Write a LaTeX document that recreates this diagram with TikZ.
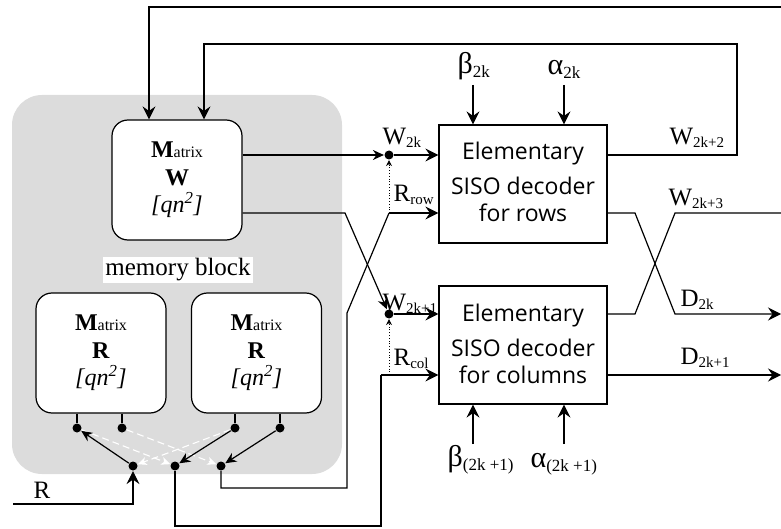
\documentclass[tikz,border=0pt]{standalone}
\usepackage{fontspec}
\setmainfont{Liberation Serif}
\newfontfamily\decfont{Open Sans}
\usetikzlibrary{arrows.meta}
\definecolor{memgray}{RGB}{220,220,220}
\newcommand\lsub[1]{\raisebox{-3pt}{\fontsize{15}{15}\selectfont #1}}
\newcommand\gsub[1]{\raisebox{-4pt}{\fontsize{17}{17}\selectfont #1}}
\begin{document}
\begin{tikzpicture}[x=1pt,y=-1pt, line width=1.2pt,
  big/.style={-{Stealth[length=13pt,width=13pt,inset=4.5pt]}},
  mid/.style={-{Stealth[length=11pt,width=10pt,inset=3.5pt]}},
  mbox/.style={draw, fill=white, rounded corners=16pt, minimum width=130pt, minimum height=120pt, align=center, font=\fontsize{24}{27.5}\selectfont, inner sep=0pt},
  dec/.style={draw, minimum width=168pt, minimum height=118pt, inner sep=0pt},
  dectext/.style={font=\decfont\fontsize{23}{23}\selectfont, anchor=base, inner sep=0pt},
  lab/.style={font=\fontsize{25}{25}\selectfont, anchor=base west, inner sep=0pt},
  glab/.style={font=\fontsize{30}{30}\selectfont, anchor=base west, inner sep=0pt},
  dot/.style={circle, fill=black, inner sep=0pt, minimum size=9pt},
  wdash/.style={white, line width=1.1pt, dash pattern=on 7pt off 4pt, -{Stealth[length=9pt,width=8pt,inset=2.5pt]}},
  dotl/.style={line width=0.8pt, dotted, -{Stealth[length=6pt,width=6pt,inset=2pt]}}
]
\useasboundingbox (0,0) rectangle (781,529);
\fill[memgray, rounded corners=30pt] (12,95) rectangle (342,474);

% memory boxes
\node[mbox] (W) at (177,180) {\textbf{M}{\fontsize{16}{16}\selectfont atrix}\\ \textbf{W}\\ \textit{[qn\textsuperscript{2}]}};
\node[mbox] (RL) at (101,353) {\textbf{M}{\fontsize{16}{16}\selectfont atrix}\\ \textbf{R}\\ \textit{[qn\textsuperscript{2}]}};
\node[mbox] (RR) at (256.5,353) {\textbf{M}{\fontsize{16}{16}\selectfont atrix}\\ \textbf{R}\\ \textit{[qn\textsuperscript{2}]}};
\node[fill=white, inner sep=2pt, font=\fontsize{25}{25}\selectfont] (memlab) at (178,270) {memory block};

% decoders
\node[dec] (rows) at (523,184) {};
\node[dectext] (rows1) at (523,160) {Elementary};
\node[dectext] (rows2) at (523,195) {SISO decoder};
\node[dectext] (rows3) at (523,222) {for rows};
\node[dec] (cols) at (523,345) {};
\node[dectext] (cols1) at (523,321) {Elementary};
\node[dectext] (cols2) at (523,356) {SISO decoder};
\node[dectext] (cols3) at (523,383) {for columns};

% junction dots
\node[dot] (wd1) at (389,155) {};
\node[dot] (wd2) at (389,314) {};
\node[dot] (m1) at (77,428) {};
\node[dot] (m2) at (122,428) {};
\node[dot] (m3) at (235,428) {};
\node[dot] (m4) at (280,428) {};
\node[dot] (n1) at (133,466) {};
\node[dot] (n2) at (175,466) {};
\node[dot] (n3) at (221,466) {};

% coordinates
\coordinate (t1) at (781,7);
\coordinate (t1b) at (149,7);
\coordinate (t2) at (737,44);
\coordinate (t2b) at (204,44);
\coordinate (c1) at (345,213);
\coordinate (c2) at (347,313);
\coordinate (c3) at (347,488);
\coordinate (rr) at (389,213);
\coordinate (c5) at (381,526);
\coordinate (rc) at (381,375);
\coordinate (rcd) at (389,375);
\coordinate (x1) at (635,213);
\coordinate (x2) at (675,314);
\coordinate (x3) at (635,314);
\coordinate (x4) at (675,213);
\coordinate (e1) at (781,213);
\coordinate (e2) at (781,314);
\coordinate (e3) at (781,375);
\coordinate (rin) at (13,504);
\coordinate (b1) at (473,85);
\coordinate (a1) at (564,85);
\coordinate (b2) at (473,444);
\coordinate (a2) at (564,444);

% feedback loops
\draw[big] (t1) -| (W.north -| t1b);
\draw[big] (rows.east |- wd1) -| (t2) -| (W.north -| t2b);

% W matrix outputs
\draw[mid] (W.east |- wd1) -- (wd1);
\draw[big] (wd1) -- (rows.west |- wd1);
\draw[mid] (W.east |- c1) -- (c1) -- (wd2);
\draw[big] (wd2) -- (cols.west |- wd2);

% R matrix routing
\draw (n3) |- (c3) -- (c2) -- (rr);
\draw[big] (rr) -- (rows.west |- rr);
\draw[dotl] (rr) -- (wd1);
\draw (n2) |- (c5) -- (rc);
\draw[big] (rc) -- (cols.west |- rc);
\draw[dotl] (rcd) -- (wd2);

% decoder outputs
\draw (cols.east |- wd2) -- (x3) -- (x4) -- (e1);
\draw[big] (rows.east |- rr) -- (x1) -- (x2) -- (e2);
\draw[big] (cols.east |- rc) -- (e3);

% alpha beta inputs
\draw[big] (b1) -- (rows.north -| b1);
\draw[big] (a1) -- (rows.north -| a1);
\draw[big] (b2) -- (cols.south -| b2);
\draw[big] (a2) -- (cols.south -| a2);

% memory R internals
\draw (RL.south -| m1) -- (m1);
\draw (RL.south -| m2) -- (m2);
\draw (RR.south -| m3) -- (m3);
\draw (RR.south -| m4) -- (m4);
\draw[wdash] (m1) -- (n2);
\draw[wdash] (m2) -- (n3);
\draw[wdash] (m3) -- (n1);
\draw[mid] (n1) -- (m1);
\draw[mid] (m3) -- (n2);
\draw[mid] (m4) -- (n3);
\draw[big] (rin) -| (n1);

% labels
\node[lab] (lw2k) at (382,145) {W\lsub{2k}};
\node[lab] (lrrow) at (393,202) {R\lsub{row}};
\node[lab] (lw2k1) at (382,310) {W\lsub{2k+1}};
\node[lab] (lrcol) at (393,365) {R\lsub{col}};
\node[lab] (lw2k2) at (669,145) {W\lsub{2k+2}};
\node[lab] (lw2k3) at (668,206) {W\lsub{2k+3}};
\node[lab] (ld2k) at (680,306) {D\lsub{2k}};
\node[lab] (ld2k1) at (680,364) {D\lsub{2k+1}};
\node[glab] (lb2k) at (457,74) {β\gsub{2k}};
\node[glab] (la2k) at (547,75) {α\gsub{2k}};
\node[glab] (lb2k1) at (447,466) {β\gsub{(2k +1)}};
\node[glab] (la2k1) at (530,467) {α\gsub{(2k +1)}};
\node[lab] (lr) at (33,498) {R};
\end{tikzpicture}
\end{document}
